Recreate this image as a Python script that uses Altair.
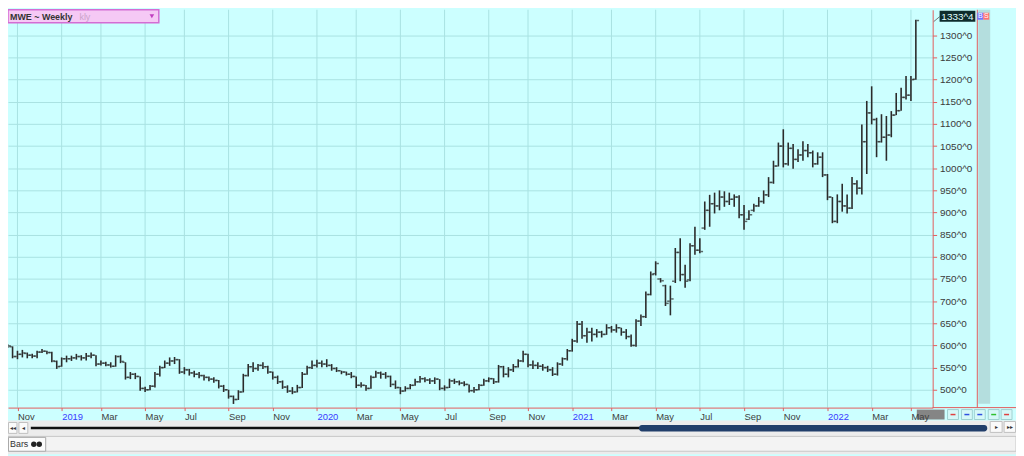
import altair as alt
import pandas as pd

# ---------------- data ----------------
first_week = "2018-10-15"   # weekly bars, dated by week start

highs = [
    600, 603, 598, 588, 590, 584, 581, 588, 592, 588,
    586, 566, 573, 577, 577, 581, 578, 583, 584, 578,
    566, 563, 562, 578, 578, 562, 540, 538, 530, 507,
    511, 540, 554, 566, 573, 574, 569, 551, 547, 543,
    540, 534, 530, 528, 522, 511, 500, 487, 499, 536,
    558, 562, 558, 562, 554, 541, 532, 521, 510, 506,
    511, 540, 554, 566, 568, 566, 569, 558, 551, 543,
    541, 540, 530, 517, 511, 532, 543, 541, 540, 532,
    521, 506, 508, 513, 525, 531, 528, 526, 528, 524,
    510, 525, 525, 521, 519, 512, 506, 513, 525, 528,
    526, 556, 554, 551, 558, 569, 588, 581, 566, 562,
    558, 554, 551, 562, 573, 592, 615, 655, 655, 640,
    640, 637, 633, 648, 644, 648, 640, 637, 625, 659,
    670, 722, 767, 790, 752, 737, 735, 820, 842, 782,
    831, 868, 842, 925, 940, 945, 950, 948, 945, 941,
    939, 917, 905, 920, 935, 950, 980, 1017, 1058, 1088,
    1058, 1055, 1043, 1061, 1055, 1040, 1036, 1036, 987, 935,
    941, 965, 941, 980, 973, 1099, 1152, 1185, 1114, 1122,
    1118, 1129, 1170, 1182, 1208, 1208, 1335,
]
lows = [
    592, 594, 571, 569, 573, 571, 571, 571, 583, 580,
    562, 547, 552, 562, 565, 568, 566, 566, 571, 553,
    555, 553, 550, 552, 560, 523, 524, 524, 498, 495,
    499, 505, 530, 549, 554, 558, 536, 535, 532, 528,
    526, 521, 519, 516, 503, 495, 480, 468, 477, 494,
    530, 540, 543, 547, 536, 523, 513, 502, 493, 490,
    494, 504, 534, 547, 550, 551, 551, 543, 540, 535,
    532, 526, 504, 505, 498, 502, 527, 525, 525, 506,
    502, 490, 496, 501, 509, 516, 517, 513, 513, 499,
    498, 504, 513, 510, 508, 494, 493, 499, 509, 517,
    513, 516, 528, 528, 540, 550, 562, 551, 547, 547,
    543, 540, 531, 532, 554, 566, 586, 606, 615, 606,
    609, 618, 618, 624, 629, 629, 622, 614, 597, 597,
    644, 662, 713, 758, 742, 689, 668, 741, 745, 730,
    745, 805, 808, 861, 868, 898, 905, 913, 917, 913,
    887, 861, 883, 902, 913, 920, 935, 965, 1004, 1002,
    1006, 999, 1014, 1017, 1025, 1002, 1008, 980, 928, 876,
    876, 902, 898, 908, 941, 941, 987, 1099, 1025, 1058,
    1017, 1070, 1120, 1130, 1155, 1152, 1200,
]
opens = [
    594, 598, 597, 575, 580, 582, 578, 576, 585, 587,
    584, 564, 553, 570, 570, 572, 575, 572, 576, 578,
    558, 560, 556, 553, 575, 562, 528, 535, 530, 503,
    500, 508, 535, 550, 560, 565, 568, 540, 545, 538,
    535, 532, 528, 524, 521, 508, 500, 485, 478, 495,
    532, 552, 548, 555, 552, 540, 528, 518, 506, 497,
    495, 505, 535, 550, 555, 560, 558, 555, 548, 543,
    540, 535, 530, 510, 510, 503, 528, 538, 535, 530,
    512, 505, 497, 503, 510, 518, 525, 522, 520, 524,
    503, 505, 520, 518, 515, 512, 498, 500, 510, 520,
    525, 518, 552, 535, 545, 552, 565, 580, 556, 555,
    553, 550, 545, 535, 558, 570, 588, 610, 648, 622,
    630, 625, 630, 625, 640, 635, 640, 630, 620, 600,
    655, 665, 715, 762, 750, 735, 700, 745, 810, 760,
    748, 825, 815, 865, 905, 920, 915, 935, 925, 930,
    935, 895, 885, 905, 915, 925, 940, 968, 1005, 1050,
    1010, 1045, 1020, 1030, 1040, 1035, 1010, 1025, 985, 935,
    880, 925, 915, 910, 965, 955, 1060, 1125, 1110, 1060,
    1070, 1075, 1120, 1130, 1160, 1165, 1201,
]
closes = [
    598, 599, 575, 580, 583, 578, 576, 585, 587, 584,
    565, 552, 570, 570, 572, 575, 572, 576, 578, 558,
    560, 556, 553, 575, 564, 528, 535, 530, 503, 500,
    508, 535, 550, 560, 565, 568, 540, 545, 538, 535,
    532, 528, 524, 521, 508, 500, 485, 478, 495, 532,
    552, 548, 555, 552, 540, 528, 518, 506, 497, 495,
    505, 535, 550, 555, 560, 558, 555, 548, 543, 540,
    535, 530, 510, 510, 503, 528, 538, 535, 530, 512,
    505, 497, 503, 510, 518, 525, 522, 520, 524, 503,
    505, 520, 518, 515, 512, 498, 500, 510, 520, 525,
    518, 552, 535, 545, 552, 565, 580, 556, 555, 553,
    550, 545, 535, 558, 570, 588, 610, 648, 622, 630,
    625, 630, 625, 640, 635, 640, 630, 620, 600, 655,
    665, 715, 760, 785, 746, 695, 705, 810, 760, 745,
    825, 815, 812, 905, 920, 915, 935, 925, 930, 935,
    895, 880, 895, 915, 925, 940, 968, 1005, 1050, 1010,
    1045, 1020, 1030, 1040, 1035, 1010, 1025, 985, 935, 880,
    925, 915, 910, 965, 955, 1060, 1125, 1110, 1060, 1070,
    1075, 1120, 1130, 1160, 1165, 1200, 1333.5,
]

tick_dates = [
    "2018-11-05", "2019-01-07", "2019-03-04", "2019-05-06", "2019-07-01",
    "2019-09-02", "2019-11-04", "2020-01-06", "2020-03-02", "2020-05-04",
    "2020-07-06", "2020-09-07", "2020-11-02", "2021-01-04", "2021-03-01",
    "2021-05-03", "2021-07-05", "2021-09-06", "2021-11-01", "2022-01-03",
    "2022-03-07", "2022-05-02",
]
tick_labels = [
    "Nov", "2019", "Mar", "May", "Jul", "Sep", "Nov", "2020", "Mar", "May",
    "Jul", "Sep", "Nov", "2021", "Mar", "May", "Jul", "Sep", "Nov", "2022",
    "Mar", "May",
]
y_ticks = list(range(500, 1301, 50))
last_price_label = "1333^4"
title_text = "MWE ~ Weekly"
title_ghost = "kly"
tab_text = "Bars"

# ---------------- tables ----------------
dates = pd.date_range(first_week, periods=len(highs), freq="7D")
df = pd.DataFrame({
    "date": dates.strftime("%Y-%m-%dT00:00:00Z"),
    "high": highs, "low": lows, "open": opens, "close": closes,
})
grid_df = pd.DataFrame({"date": [d + "T00:00:00Z" for d in tick_dates]})
one = pd.DataFrame({"k": [0]})

# ---------------- style ----------------
W, H = 932, 401
RED = "#e25c5c"
BAR = "#2b2b2b"
GRID = "#a9e2e2"
BG = "#ccffff"
FONT = "Liberation Sans"


def dt(s, **extra):
    y, m, d = (int(p) for p in s.split("-"))
    return alt.DateTime(year=y, month=m, date=d, utc=True, **extra)


x_scale = alt.Scale(
    type="utc",
    domain=[dt("2018-10-22", hours=12), dt("2022-06-01", hours=23, minutes=17)],
)
y_scale = alt.Scale(domain=[459.7, 1357.8], nice=False, zero=False)

dates_arr = "[" + ",".join(f"'{d}'" for d in tick_dates) + "]"
labels_arr = "[" + ",".join(f"'{l}'" for l in tick_labels) + "]"
key = "utcFormat(datum.value, '%Y-%m-%d')"
label_expr = f"{labels_arr}[indexof({dates_arr}, {key})]"

x_axis = alt.Axis(
    values=[dt(d) for d in tick_dates],
    labelExpr=label_expr,
    labelColor={"condition": {"test": f"length({label_expr}) == 4", "value": "#3a3aff"},
                "value": "#404040"},
    grid=False, domainColor=RED, domainWidth=1, tickColor=RED, tickSize=3,
    labelAlign="left", labelPadding=1, labelFont=FONT, labelFontSize=9.5,
    labelFlush=False, labelOverlap=False, title=None, zindex=1,
)
y_axis = alt.Axis(
    orient="right", values=y_ticks, labelExpr="datum.value + '^0'",
    grid=True, gridColor=GRID, gridWidth=1, domainColor=RED, domainWidth=1,
    tickColor=RED, tickSize=4, labelPadding=3, labelFont=FONT, labelFontSize=10,
    labelColor="#3a3a3a", labelOverlap=False, title=None, zindex=0,
)

X = alt.X("date:T", scale=x_scale, axis=x_axis)

vgrid = alt.Chart(grid_df).mark_rule(color=GRID, strokeWidth=1).encode(x=X)

base = alt.Chart(df).encode(x=X)
hl = base.mark_rule(color=BAR, strokeWidth=1.6).encode(
    y=alt.Y("low:Q", scale=y_scale, axis=y_axis), y2="high:Q")
op = base.mark_tick(orient="horizontal", color=BAR, size=2.5, thickness=1.5,
                    xOffset=-2).encode(y=alt.Y("open:Q", scale=y_scale, axis=y_axis))
cl = base.mark_tick(orient="horizontal", color=BAR, size=2.5, thickness=1.5,
                    xOffset=2).encode(y=alt.Y("close:Q", scale=y_scale, axis=y_axis))


# ---------------- decorations (chart-window furniture) ----------------
def rect(x, x2, y, y2, **kw):
    return alt.Chart(one).mark_rect(**kw).encode(
        x=alt.value(x), x2=alt.value(x2), y=alt.value(y), y2=alt.value(y2))


def line(x, x2, y, y2, **kw):
    return alt.Chart(one).mark_rule(**kw).encode(
        x=alt.value(x), x2=alt.value(x2), y=alt.value(y), y2=alt.value(y2))


def text(x, y, s, **kw):
    kw.setdefault("font", FONT)
    return alt.Chart(one).mark_text(text=s, **kw).encode(x=alt.value(x), y=alt.value(y))


decos = [
    # grey strip and red divider at the right
    rect(978, 990, 0, 397, color="#b4dede"),
    line(977, 977, 0, 401, color=RED, strokeWidth=1),
    line(932, 1016, 401, 401, color=RED, strokeWidth=1),
    # last price flag
    line(933, 939, 12, 7, color="#707070", strokeWidth=1),
    rect(939, 975, 1, 12, color="#0e2c2c"),
    text(957, 7, last_price_label, color="#e2ffff", fontSize=10, align="center", baseline="middle"),
    # B / S buttons
    rect(977, 983, 3, 10, color="#7272ff"),
    text(980, 6.8, "B", color="#ffffff", fontSize=7, align="center", baseline="middle"),
    rect(983, 989, 3, 10, color="#ff7070"),
    text(986, 6.8, "S", color="#ffffff", fontSize=7, align="center", baseline="middle"),
    # title box
    rect(0, 152, 0, 13, color="#f5c9f5", stroke="#d46cd4", strokeWidth=1.5),
    text(2, 7, title_text, color="#333333", fontSize=9, fontWeight="bold",
         align="left", baseline="middle"),
    text(72, 7, title_ghost, color="#caa3ca", fontSize=9, align="left", baseline="middle"),
    alt.Chart(one).mark_point(shape="triangle-down", filled=True, size=22,
                              color="#c040c0", opacity=1).encode(
        x=alt.value(145), y=alt.value(6.5)),
    # current bar highlight on the time axis
    rect(916, 944, 403, 413, color="#858585"),
]
btn_x = [947, 961, 974, 988, 1001]
btn_c = ["#e04040", "#3050e0", "#3050e0", "#30c030", "#e04040"]
for bx, bc in zip(btn_x, btn_c):
    decos.append(rect(bx, bx + 11, 403, 413, color="#d6f8f8", stroke="#9fd0d0", strokeWidth=1))
    decos.append(line(bx + 3, bx + 8, 408, 408, color=bc, strokeWidth=1.5))

decos += [
    # bottom panel: scroll bar row and tab row
    rect(0, 1016, 414, 448, color="#ececec"),
    rect(0.5, 9, 416, 427, color="#fafafa", stroke="#c0c0c0", strokeWidth=1),
    text(5, 421.5, "◂◂", color="#333333", fontSize=6, align="center", baseline="middle"),
    rect(11, 20, 416, 427, color="#fafafa", stroke="#c0c0c0", strokeWidth=1),
    text(15.5, 421.5, "◂", color="#333333", fontSize=6, align="center", baseline="middle"),
    line(23, 637, 421.5, 421.5, color="#111111", strokeWidth=2.5),
    rect(636, 987, 418.5, 425, color="#213e6a", cornerRadius=3),
    rect(990, 1002, 415, 426, color="#fafafa", stroke="#c0c0c0", strokeWidth=1),
    text(996, 420.5, "▸", color="#333333", fontSize=6, align="center", baseline="middle"),
    rect(1004, 1015.5, 415, 426, color="#fafafa", stroke="#c0c0c0", strokeWidth=1),
    text(1010, 420.5, "▸▸", color="#333333", fontSize=6, align="center", baseline="middle"),
    rect(0, 1016, 430, 445, color="#f3f3f3", stroke="#c6c6c6", strokeWidth=1),
    rect(0.5, 38, 431, 445, color="#fbfbfb", stroke="#a8a8a8", strokeWidth=1),
    text(2, 438, tab_text, color="#333333", fontSize=9, align="left", baseline="middle"),
    alt.Chart(one).mark_point(filled=True, size=30, color="#222222", opacity=1).encode(
        x=alt.value(26), y=alt.value(438)),
    alt.Chart(one).mark_point(filled=True, size=30, color="#222222", opacity=1).encode(
        x=alt.value(31.5), y=alt.value(438)),
]

chart = alt.layer(vgrid, hl, op, cl, *decos).properties(
    width=W, height=H, background=BG,
    padding={"left": 0, "top": 0, "right": 84, "bottom": 47},
    autosize=alt.AutoSizeParams(type="none"),
).configure_view(strokeWidth=0)

chart.save("out.html", embed_options={"renderer": "svg", "actions": False})
